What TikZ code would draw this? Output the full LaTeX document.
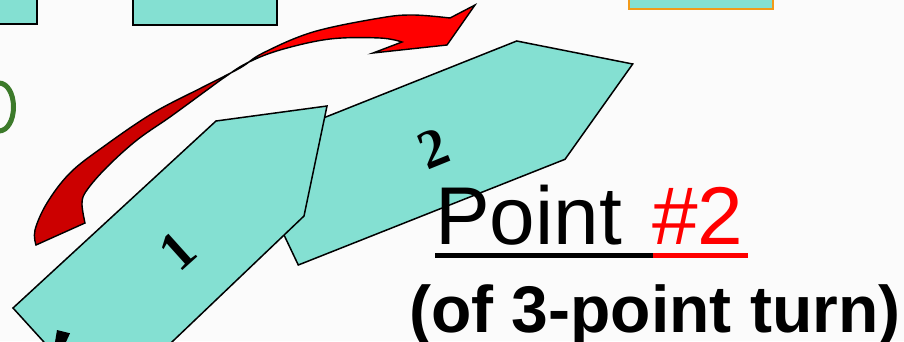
\documentclass[tikz,border=0pt]{standalone}
\usepackage{fontspec}
\setmainfont{Liberation Serif}
\newfontfamily\arial{Liberation Sans}
\definecolor{teal1}{HTML}{84E0D2}
\definecolor{gr1}{HTML}{3C7A2A}
\definecolor{or1}{HTML}{F29A1A}
\definecolor{dred}{HTML}{CC0000}
\definecolor{bred}{HTML}{FF0000}
\definecolor{bg}{HTML}{FBFBFB}
\tikzset{
  carbox/.style={fill=teal1, draw=black, line width=1.5pt, line join=miter},
  digit/.style={inner sep=0pt, font=\bfseries\fontsize{55}{60}\selectfont},
}
\def\arrowpath{(36,245) -- plot[smooth, tension=0.6] coordinates {(36,245) (35,230) (47,203) (70,173) (103,147) (153,113) (203,87) (240,68) (263,53) (313,32) (380,18) (413,15) (450,18)} -- (475,5) -- (447,45) -- (373,53) -- plot[smooth, tension=0.6] coordinates {(402,42) (380,38) (330,39) (280,50) (247,63) (225,77) (207,90) (170,117) (137,140) (107,167) (87,190) (82,203) (85,223)} -- cycle}
\begin{document}
\begin{tikzpicture}[x=1pt,y=-1pt]
\useasboundingbox (0,0) rectangle (904,341);
\clip (0,0) rectangle (904,341);
\fill[bg] (0,0) rectangle (904,341);
% top rectangles
\draw[fill=teal1, line width=1.8pt] (-5,-5) rectangle (37,24);
\draw[fill=teal1, line width=1.8pt] (133,-5) rectangle (277,25);
\draw[fill=teal1, draw=or1, line width=2pt] (629,-5) rectangle (773,9);
% green bracket
\draw[gr1, line width=5pt] (-1,83) .. controls (7.45,83) and (13.5,93.75) .. (13.5,107) .. controls (13.5,120.25) and (7.45,131) .. (-1,131);
% red arrow
\fill[bred] \arrowpath;
\begin{scope}
  \clip (0,0) rectangle (226,341);
  \fill[dred] \arrowpath;
\end{scope}
\draw[black, line width=1.4pt, line join=miter] \arrowpath;
% car 2
\draw[carbox] (298.3,265) -- (565,159.3) -- (632.7,64) -- (516.7,41) -- (310,123.3) -- (300,200) -- (280.7,228) -- cycle;
% car 1
\draw[carbox] (103.4,407.4) -- (13,308) -- (216,121) -- (327,106) -- (304,216) -- cycle;
\fill[black] (57,330) -- (70,333.3) -- (66,342) -- (55,342) -- cycle;
\node[digit, rotate=42] (one) at (178,251) {1};
\node[digit, rotate=22] (two) at (433,148) {2};
% text
\node[anchor=base west, inner sep=0pt, font=\arial\fontsize{82}{90}\selectfont] (point) at (435,244) {Point};
\node[anchor=base west, inner sep=0pt, text=bred, font=\arial\fontsize{82}{90}\selectfont] (num) at (652,244) {\#2};
\fill[black] (435,252.7) rectangle (653,258.3);
\fill[bred] (653,252.7) rectangle (748,258.3);
\node[anchor=base west, inner sep=0pt, font=\arial\bfseries\fontsize{66}{72}\selectfont] (sub) at (409,332) {(of 3-point turn)};
\end{tikzpicture}
\end{document}
